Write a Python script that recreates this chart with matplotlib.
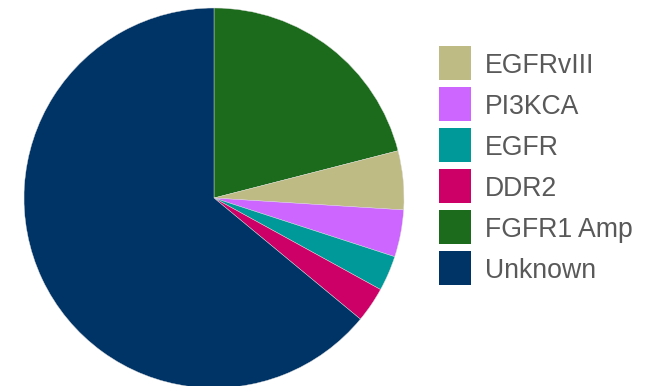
import matplotlib
matplotlib.use("Agg")
import matplotlib.pyplot as plt
from matplotlib.patches import Rectangle

# slices in drawing order, clockwise from 12 o'clock
slice_labels = ["FGFR1 Amp", "EGFRvIII", "PI3KCA", "EGFR", "DDR2", "Unknown"]
slice_values = [21, 5, 4, 3, 3, 64]
slice_colors = ["#1c6a1c", "#bfbb84", "#cc66ff", "#009999", "#cc0066", "#003366"]

# legend order
legend_labels = ["EGFRvIII", "PI3KCA", "EGFR", "DDR2", "FGFR1 Amp", "Unknown"]

W, H = 646, 386
fig = plt.figure(figsize=(W / 100, H / 100), dpi=100)
ax = fig.add_axes([0, 0, 1, 1])
ax.set_xlim(0, W)
ax.set_ylim(0, H)
ax.set_aspect("equal")
ax.axis("off")

ax.pie(slice_values, colors=slice_colors, startangle=90, counterclock=False,
       center=(214, H - 198), radius=190,
       wedgeprops=dict(linewidth=0.3, edgecolor="#dddddd"))
ax.set_xlim(0, W)
ax.set_ylim(0, H)

color_of = dict(zip(slice_labels, slice_colors))
for i, name in enumerate(legend_labels):
    top = 46 + i * 41
    ax.add_patch(Rectangle((439, H - top - 34), 32, 34, color=color_of[name], lw=0))
    ax.text(485, H - top - 17, name, fontsize=19.2, family="Liberation Sans",
            color="#595959", va="center_baseline", ha="left")

fig.savefig("out.png", dpi=100)
